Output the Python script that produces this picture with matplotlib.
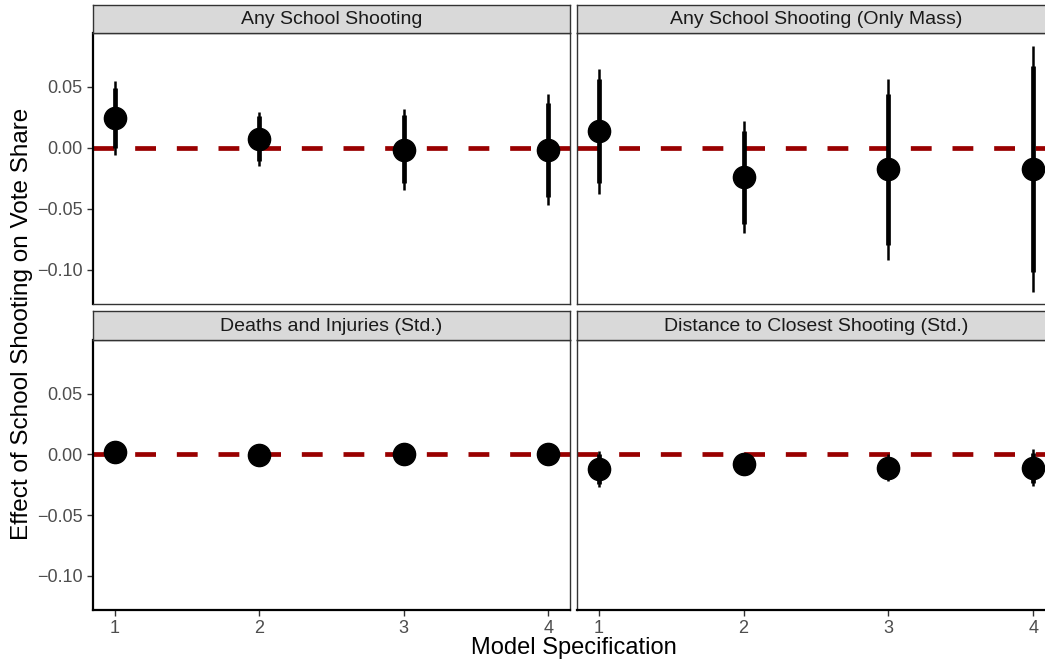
import numpy as np
import matplotlib
matplotlib.use("Agg")
import matplotlib.pyplot as plt

plt.rcParams["font.family"] = ["Liberation Sans", "DejaVu Sans"]
plt.rcParams["lines.scale_dashes"] = False

# Model specifications on the x axis
specs = [1, 2, 3, 4]

panel_titles = [
    "Any School Shooting",
    "Any School Shooting (Only Mass)",
    "Deaths and Injuries (Std.)",
    "Distance to Closest Shooting (Std.)",
]

# Point estimates per panel
est_any = [0.0243, 0.0071, -0.0016, -0.0016]
est_mass = [0.0134, -0.0240, -0.0175, -0.0175]
est_deaths = [0.0016, -0.0003, 0.0003, 0.0003]
est_dist = [-0.0120, -0.0079, -0.0110, -0.0110]

# 90% intervals (thick)
lo90_any = [-0.0003, -0.0112, -0.0290, -0.0400]
hi90_any = [0.0490, 0.0257, 0.0265, 0.0366]
lo90_mass = [-0.0290, -0.0623, -0.0795, -0.1020]
hi90_mass = [0.0566, 0.0139, 0.0440, 0.0667]
lo90_deaths = [0.0000, -0.0018, -0.0012, -0.0012]
hi90_deaths = [0.0032, 0.0012, 0.0018, 0.0018]
lo90_dist = [-0.0240, -0.0130, -0.0200, -0.0235]
hi90_dist = [0.0000, -0.0028, -0.0020, 0.0015]

# 95% intervals (thin)
lo95_any = [-0.0057, -0.0148, -0.0350, -0.0473]
hi95_any = [0.0543, 0.0292, 0.0320, 0.0440]
lo95_mass = [-0.0380, -0.0700, -0.0918, -0.1180]
hi95_mass = [0.0648, 0.0216, 0.0566, 0.0830]
lo95_deaths = [-0.0004, -0.0022, -0.0016, -0.0016]
hi95_deaths = [0.0036, 0.0016, 0.0022, 0.0022]
lo95_dist = [-0.0270, -0.0150, -0.0220, -0.0260]
hi95_dist = [0.0025, -0.0010, 0.0005, 0.0044]

panels = [
    (est_any, lo90_any, hi90_any, lo95_any, hi95_any),
    (est_mass, lo90_mass, hi90_mass, lo95_mass, hi95_mass),
    (est_deaths, lo90_deaths, hi90_deaths, lo95_deaths, hi95_deaths),
    (est_dist, lo90_dist, hi90_dist, lo95_dist, hi95_dist),
]

W, H = 1045, 664
fig = plt.figure(figsize=(W / 100, H / 100), dpi=100)
fig.patch.set_facecolor("white")

# panel boxes in pixels; the right column runs a little past the edge
col_x = [(93, 570), (577, 1055)]
row_y = [(33, 304), (340, 610)]
strip_h = [28, 29]

border = "#333333"
for k, (est, lo90, hi90, lo95, hi95) in enumerate(panels):
    r, c = divmod(k, 2)
    x0, x1 = col_x[c]
    y0, y1 = row_y[r]
    ax = fig.add_axes([x0 / W, 1 - y1 / H, (x1 - x0) / W, (y1 - y0) / H])
    ax.set_xlim(0.85, 4.15)
    ax.set_ylim(-0.128, 0.094)

    ax.axhline(0, color="#990000", lw=3.4, dashes=(15, 15), zorder=1)
    ax.vlines(specs, lo95, hi95, color="black", lw=1.8, zorder=2)
    ax.vlines(specs, lo90, hi90, color="black", lw=3.4, zorder=3)
    ax.plot(specs, est, "o", color="black", ms=16, zorder=4)

    for s in ax.spines.values():
        s.set_color(border)
        s.set_linewidth(1.0)
    ax.set_yticks([-0.10, -0.05, 0.00, 0.05])
    ax.set_xticks(specs)
    ax.tick_params(colors=border, labelcolor="#4D4D4D", labelsize=13,
                   length=4, width=1)
    if c == 0:
        ax.set_yticklabels(["\u22120.10", "\u22120.05", "0.00", "0.05"])
        ax.spines["left"].set_color("black")
        ax.spines["left"].set_linewidth(1.6)
    else:
        ax.tick_params(axis="y", left=False, labelleft=False)
    if r == 1:
        ax.spines["bottom"].set_color("black")
        ax.spines["bottom"].set_linewidth(1.6)
    else:
        ax.tick_params(axis="x", bottom=False, labelbottom=False)

    # facet strip
    sax = fig.add_axes([x0 / W, 1 - y0 / H, (x1 - x0) / W, strip_h[r] / H])
    sax.set_facecolor("#D9D9D9")
    sax.set_xticks([])
    sax.set_yticks([])
    for s in sax.spines.values():
        s.set_color(border)
        s.set_linewidth(1.0)
    sax.text(0.5, 0.47, panel_titles[k], transform=sax.transAxes,
             ha="center", va="center", fontsize=14, color="#1A1A1A")

fig.text(574 / W, 1 - 648 / H, "Model Specification", ha="center",
         va="center", fontsize=17)
fig.text(22 / W, 1 - 324 / H, "Effect of School Shooting on Vote Share",
         ha="center", va="center", rotation=90, fontsize=17.5)

fig.savefig("out.png", dpi=100)
